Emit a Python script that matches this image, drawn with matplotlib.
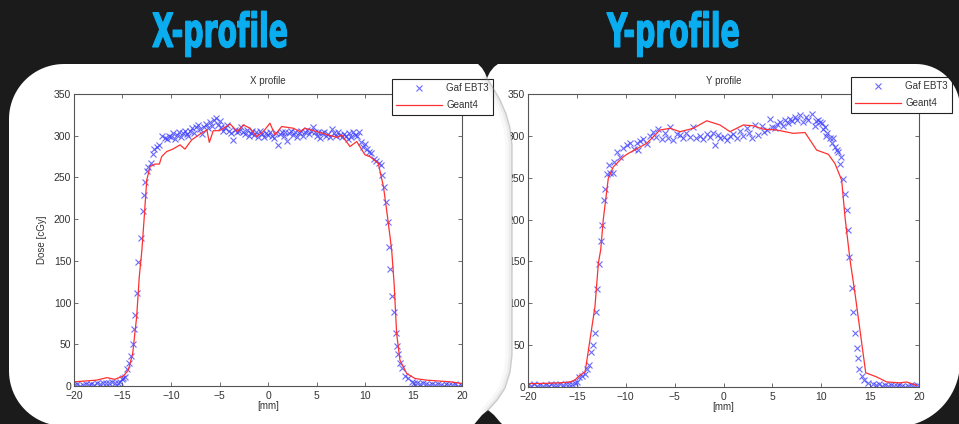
import numpy as np
import matplotlib
matplotlib.use("Agg")
import matplotlib.pyplot as plt
from matplotlib.path import Path
from matplotlib.patches import PathPatch, Polygon
from matplotlib.patheffects import AbstractPathEffect
from matplotlib.transforms import Affine2D

plt.rcParams['font.family'] = ['Liberation Sans', 'DejaVu Sans']

# ---------------- data ----------------
x_meas_x = [-20.0, -19.7, -19.4, -19.1, -18.8, -18.5, -18.2, -17.9, -17.6, -17.3, -17.0, -16.7, -16.4, -16.1,
            -15.8, -15.5, -15.3, -15.1, -14.9, -14.76, -14.54, -14.33, -14.15, -13.95, -13.78, -13.7, -13.54,
            -13.43, -13.13, -12.92, -12.75, -12.68, -12.5, -12.4, -12.1, -11.9, -11.73, -11.48, -11.2, -10.9,
            -10.6, -10.4, -10.2, -10.0, -9.8, -9.6, -9.4, -9.2, -9.0, -8.8, -8.6, -8.4, -8.2, -8.0, -7.8, -7.6,
            -7.4, -7.2, -7.0, -6.8, -6.6, -6.4, -6.2, -6.0, -5.8, -5.6, -5.4, -5.2, -5.0, -4.8, -4.6, -4.4, -4.2,
            -4.0, -3.8, -3.6, -3.4, -3.2, -3.0, -2.8, -2.6, -2.4, -2.2, -2.0, -1.8, -1.6, -1.4, -1.2, -1.0, -0.8,
            -0.6, -0.4, -0.2, 0.0, 0.2, 0.4, 0.6, 0.8, 1.0, 1.2, 1.4, 1.6, 1.8, 2.0, 2.2, 2.4, 2.6, 2.8, 3.0, 3.2,
            3.4, 3.6, 3.8, 4.0, 4.2, 4.4, 4.6, 4.8, 5.0, 5.2, 5.4, 5.6, 5.8, 6.0, 6.2, 6.4, 6.6, 6.8, 7.0, 7.2,
            7.4, 7.6, 7.8, 8.0, 8.2, 8.4, 8.6, 8.8, 9.0, 9.2, 9.4, 9.6, 9.8, 10.0, 10.2, 10.4, 10.6, 10.9, 11.1,
            11.4, 11.6, 11.8, 12.0, 12.16, 12.33, 12.5, 12.58, 12.78, 12.96, 13.16, 13.33, 13.44, 13.6, 13.78,
            14.1, 14.46, 14.8, 15.1, 15.4, 15.7, 16.0, 16.3, 16.6, 16.9, 17.2, 17.5, 17.8, 18.1, 18.4, 18.7,
            19.0, 19.3, 19.6, 19.9]
x_meas_dose = [1, 2, 0, 1, 2, 1, 2, 1, 3, 2, 3, 4, 3, 5,
               4, 3, 5, 8, 10, 11, 20, 28, 36, 50, 68, 85, 112,
               149, 177, 210, 229, 245, 258, 262, 267, 278, 284, 286, 289, 300,
               297, 296, 300, 298, 303, 296, 301, 305, 299, 303, 306, 302, 300, 306, 309, 303,
               311, 313, 308, 302, 311, 314, 309, 316, 312, 319, 321, 313, 318, 310, 306, 309, 313,
               306, 303, 295, 307, 304, 306, 310, 305, 302, 307, 300, 303, 306, 301, 304, 299, 306,
               302, 298, 303, 301, 305, 300, 297, 303, 289, 302, 305, 300, 304, 294, 303, 306, 301, 304, 298, 303,
               306, 300, 304, 307, 302, 306, 311, 305, 300, 304, 297, 303, 305, 300, 302, 299, 308, 303, 300, 304,
               301, 298, 302, 300, 296, 303, 299, 305, 301, 300, 304, 292, 287, 290, 284, 281, 279, 272, 270,
               267, 265, 253, 239, 220, 196, 167, 140, 108, 89, 64, 48, 38, 28, 22,
               12, 9, 5, 3, 4, 2, 3, 2, 1, 2, 1, 2, 1, 0, 2, 1,
               1, 2, 0, 1]

x_sim_x = [-20, -17.7, -16.6, -15.8, -14.9, -14.4, -13.95, -13.54, -13.27, -13.0, -12.78, -12.5, -12.16,
           -11.65, -11.2, -10.96, -10.45, -9.8, -9.07, -8.56, -7.87, -7.0, -6.3, -6.05, -5.64, -5.0, -3.9,
           -3.16, -2.55, -1.86, -1.17, -0.48, 0.2, 0.72, 1.41, 2.6, 3.3, 3.8, 5.0, 6.2, 7.1, 7.6, 8.45, 9.15,
           10.0, 10.5, 11.37, 11.9, 12.23, 12.58, 12.75, 13.0, 13.26, 13.6, 14.3, 15.15, 16.35, 18.8, 20]
x_sim_dose = [5, 7, 10, 8, 12, 19, 39, 83, 131, 163, 199, 247, 263,
              266, 266, 275, 281, 284, 289, 284, 295, 302, 307, 292, 306, 306, 314,
              305, 313, 309, 299, 305, 315, 301, 311, 309, 305, 309, 305, 301, 298, 301, 287, 293,
              277, 275, 267, 239, 211, 179, 163, 123, 63, 31, 15, 9, 7, 5, 3]

y_meas_x = [-20.0, -19.7, -19.4, -19.1, -18.8, -18.5, -18.2, -17.9, -17.6, -17.3, -17.0, -16.7, -16.4, -16.1,
            -15.8, -15.5, -15.2, -15.0, -14.75, -14.48, -14.2, -13.96, -13.76, -13.55, -13.38, -13.18, -13.07,
            -12.9, -12.74, -12.56, -12.4, -12.2, -12.09, -11.92, -11.71, -11.61, -11.34, -11.2, -10.93, -10.59,
            -10.25, -9.9, -9.6, -9.2, -8.9, -8.72, -8.54, -8.2, -7.86, -7.52, -7.18, -6.9, -6.67, -6.32, -6.0,
            -5.7, -5.47, -5.13, -4.8, -4.45, -4.1, -3.8, -3.45, -3.09, -2.8, -2.4, -2.1, -1.72, -1.4, -1.1,
            -0.87, -0.6, -0.36, 0.0, 0.33, 0.66, 1.0, 1.35, 1.69, 2.03, 2.37, 2.6, 2.88, 3.22, 3.56, 3.9, 4.15,
            4.42, 4.76, 5.0, 5.27, 5.5, 5.78, 6.05, 6.3, 6.55, 6.8, 7.05, 7.3, 7.55, 7.83, 8.17, 8.4, 8.68,
            9.02, 9.36, 9.5, 9.7, 9.9, 10.05, 10.2, 10.38, 10.5, 10.62, 10.9, 11.05, 11.23, 11.4, 11.6, 11.75,
            11.92, 11.99, 12.26, 12.43, 12.6, 12.77, 12.87, 13.11, 13.28, 13.45, 13.63, 13.79, 13.9, 14.14,
            14.4, 14.8, 15.3, 15.6, 15.9, 16.2, 16.5, 16.8, 17.1, 17.4, 17.7, 18.0, 18.3, 18.6, 18.9, 19.2,
            19.5, 19.8]
y_meas_dose = [2, 1, 3, 1, 2, 1, 2, 1, 3, 2, 2, 3, 2, 4,
               3, 4, 5, 6, 11.5, 13, 15.5, 22, 26, 42, 50, 65, 89,
               117, 147, 174, 193, 223, 237, 255, 265, 256, 256, 269, 281, 275,
               285, 289, 291, 284, 292, 283, 294, 296, 290, 300, 305, 299, 308, 296, 303,
               298, 311, 295, 302, 301, 297, 303, 299, 310, 298, 300, 296, 302, 299, 303,
               289, 301, 297, 299, 295, 300, 302, 298, 306, 300, 309, 303, 298, 313, 301, 312, 305,
               307, 320, 311, 309, 314, 316, 312, 319, 315, 320, 318, 323, 319, 325, 317, 322, 319,
               326, 312, 318, 319, 316, 315, 308, 310, 300, 303, 297, 292, 297, 287, 283, 281,
               266, 275, 249, 231, 211, 187, 155, 118, 89, 65, 46, 35, 21.5, 13,
               8, 5, 3, 2, 3, 1, 2, 1, 2, 1, 1, 2, 1, 0, 1, 2,
               1, 2]

y_sim_x = [-20, -18.1, -16.7, -15.7, -15.2, -14.7, -14.17, -14.0, -13.15, -12.8, -12.56, -12.3, -11.79,
           -11.27, -10.25, -9.74, -7.86, -6.5, -5.47, -4.45, -3.09, -1.72, -0.36, 0.66, 2.03, 3.05, 4.07,
           5.45, 7.14, 8.34, 9.53, 10.72, 11.4, 12.09, 12.43, 12.94, 13.45, 14.55, 15.67, 16.7, 18.06,
           18.74, 19.76]
y_sim_dose = [4, 4.4, 5, 6, 8.4, 14, 18, 30, 96, 148, 164, 200, 249,
              263, 275, 279, 291, 307, 309, 305, 309, 318, 313, 305, 313, 312, 308,
              307, 303, 304, 283, 278, 267, 247, 203, 152, 112, 17, 12, 6, 5,
              6, 2]

x_ticks = [-20, -15, -10, -5, 0, 5, 10, 15, 20]
y_ticks = [0, 50, 100, 150, 200, 250, 300, 350]
series_labels = ["Gaf EBT3", "Geant4"]
panel_titles = ["X profile", "Y profile"]
big_titles = ["X-profile", "Y-profile"]

# ---------------- figure ----------------
W, H = 959, 424
fig = plt.figure(figsize=(W / 100, H / 100), dpi=100)
fig.patch.set_facecolor('white')

meas_color = '#3a3aff'
sim_color = '#ff3030'
frame_color = '#555555'
text_color = '#333333'


def fx(px):
    return px / W


def fy(py):
    return 1 - py / H


axes_boxes = [(74, 462, 94, 386), (528, 919, 94, 387)]
datasets = [(x_meas_x, x_meas_dose, x_sim_x, x_sim_dose), (y_meas_x, y_meas_dose, y_sim_x, y_sim_dose)]
legend_anchor = [(493, 79), (952, 77)]
axs = []
for i, ((l, r, t, b), (mx, my, sx, sy)) in enumerate(zip(axes_boxes, datasets)):
    ax = fig.add_axes([fx(l), fy(b), (r - l) / W, (b - t) / H])
    ax.set_facecolor('white')
    ax.plot(mx, my, linestyle='none', marker='x', markersize=3.8, markeredgewidth=0.8,
            color=meas_color, alpha=0.75, label=series_labels[0])
    ax.plot(sx, sy, color=sim_color, linewidth=0.9, label=series_labels[1])
    ax.set_xlim(-20, 20)
    ax.set_ylim(0, 350)
    ax.set_xticks(x_ticks)
    ax.set_yticks(y_ticks)
    ax.tick_params(direction='in', length=3, width=0.6, top=True, right=True, colors=frame_color,
                   labelcolor=text_color, labelsize=7.5)
    ax.tick_params(axis='x', pad=3.8)
    ax.tick_params(axis='y', pad=2)
    for s in ax.spines.values():
        s.set_color(frame_color)
        s.set_linewidth(0.8)
    ax.set_title(panel_titles[i], fontsize=7, color=text_color, pad=7)
    ax.set_xlabel('[mm]', fontsize=7, color=text_color, labelpad=0)
    if i == 0:
        ax.set_ylabel('Dose [cGy]', fontsize=7, color=text_color, labelpad=5)
    lx, ly = legend_anchor[i]
    leg = ax.legend(loc='upper right', bbox_to_anchor=(fx(lx), fy(ly)), bbox_transform=fig.transFigure,
                    borderaxespad=0, fontsize=7, numpoints=1, handlelength=4.7, handletextpad=0.4,
                    labelspacing=0.7, borderpad=0.45, fancybox=False, framealpha=1, edgecolor='#222222',
                    labelcolor=text_color)
    leg.get_frame().set_linewidth(0.8)
    axs.append(ax)

# ---------------- overlay: dark frame, panels, titles ----------------
ov = fig.add_axes([0, 0, 1, 1], zorder=10)
ov.set_xlim(0, W)
ov.set_ylim(H, 0)
ov.axis('off')
ov.patch.set_alpha(0)


def arc(cx, cy, r, a0, a1, n=24):
    a = np.radians(np.linspace(a0, a1, n))
    return list(zip(cx + r * np.cos(a), cy + r * np.sin(a)))


inner = []
inner += arc(64, 119, 55, 180, 270)
inner += [(478, 64), (482, 68), (485, 73), (487, 78), (490, 72), (494, 67), (498, 64)]
inner += arc(916, 108, 44, 270, 360)
inner += arc(895, 362, 65, 0, 90)
inner += [(505, 427), (500, 422), (494, 415), (488, 410), (482, 415), (477, 421), (472, 427)]
inner += arc(64, 371, 55, 90, 180)
inner = np.array(inner)


def signed_area(p):
    x, y = p[:, 0], p[:, 1]
    return 0.5 * np.sum(x * np.roll(y, -1) - np.roll(x, -1) * y)


outer = np.array([(-5, -5), (W + 5, -5), (W + 5, H + 5), (-5, H + 5)])
if np.sign(signed_area(outer)) == np.sign(signed_area(inner)):
    inner = inner[::-1]
verts = np.vstack([outer, outer[:1], inner, inner[:1]])
codes = ([Path.MOVETO] + [Path.LINETO] * (len(outer) - 1) + [Path.CLOSEPOLY] +
         [Path.MOVETO] + [Path.LINETO] * (len(inner) - 1) + [Path.CLOSEPOLY])
ov.add_patch(PathPatch(Path(verts, codes), facecolor='#1b1b1b', edgecolor='none'))

# seam between the two panels: left panel hides the part of the right panel left of it
seam = np.array([(487, 78), (493, 88), (500, 100), (506, 114), (510, 128), (512, 145), (512, 355),
                 (510, 372), (505, 388), (497, 400), (488, 410)])
cover = [(496, 98)] + [tuple(p) for p in seam if p[0] >= 496] + [(496, 402)]
ov.add_patch(Polygon(cover, closed=True, facecolor='white', edgecolor='none'))
for off, lw, al in [(3, 5, 0.06), (1.5, 2.5, 0.10), (0, 1.0, 0.35)]:
    ov.plot(seam[:, 0] - off, seam[:, 1], color='#888888', lw=lw, alpha=al, solid_capstyle='round')


class Squeeze(AbstractPathEffect):
    """Narrow the glyphs horizontally (condensed display face) and thicken them slightly."""

    def __init__(self, sx, lw):
        super().__init__()
        self.sx = sx
        self.lw = lw

    def draw_path(self, renderer, gc, tpath, affine, rgbFace=None):
        gc0 = renderer.new_gc()
        gc0.copy_properties(gc)
        gc0.set_linewidth(self.lw)
        gc0.set_foreground(rgbFace)
        gc0.set_joinstyle('miter')
        renderer.draw_path(gc0, tpath, Affine2D().scale(self.sx, 1) + affine, rgbFace)
        gc0.restore()


for txt, lx in zip(big_titles, [152, 607]):
    ov.text(lx, 47, txt, ha='left', va='baseline', fontsize=34, fontweight='bold', color='#0aaef0',
            family=['DejaVu Sans'], path_effects=[Squeeze(0.6, 0.8)])

fig.savefig('out.png', dpi=100, facecolor=fig.get_facecolor())
